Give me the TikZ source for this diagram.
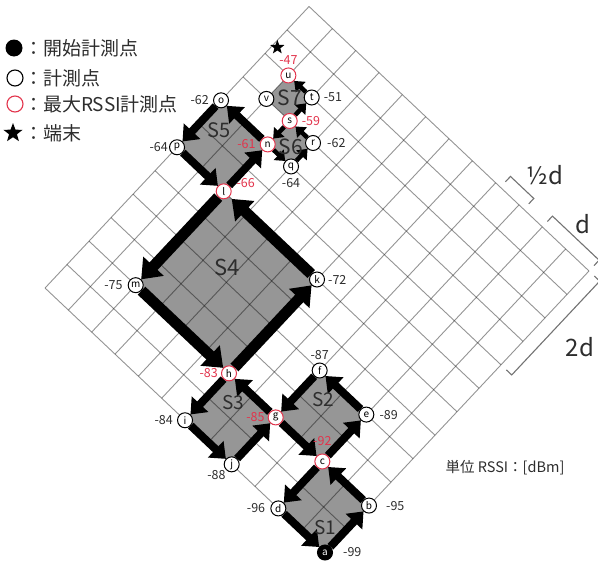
\documentclass[tikz,border=0pt]{standalone}
\usepackage{fontspec}
\setmainfont{Noto Sans CJK JP}
\usetikzlibrary{arrows.meta,shapes.geometric}
\definecolor{rssired}{RGB}{226,52,76}
\definecolor{txtgray}{RGB}{45,45,45}
\definecolor{sqgray}{RGB}{150,150,150}
\pgfdeclarelayer{bg}\pgfdeclarelayer{gridl}\pgfdeclarelayer{arr}
\pgfsetlayers{bg,gridl,arr,main}
\tikzset{
 pt/.style={circle,draw=black,fill=white,line width=1pt,minimum size=15pt,inner sep=0pt,font=\fontsize{10}{10}\selectfont},
 maxpt/.style={pt,draw=rssired},
 startpt/.style={pt,fill=black,text=white},
 val/.style={font=\fontsize{12.5}{12.5}\selectfont,text=txtgray,inner sep=1pt},
 rval/.style={val,text=rssired},
 gridline/.style={black,opacity=0.42,line width=0.9pt},
 sq/.style={fill=sqgray},
 arrM/.style={line width=8pt,-{Triangle[length=14pt,width=22pt]}},
 arrL/.style={line width=11pt,-{Triangle[length=18pt,width=27pt]}},
 arrS/.style={line width=4.5pt,-{Triangle[length=9pt,width=14pt]}},
 slabel/.style={text=txtgray,font=\fontsize{19}{19}\selectfont},
 legend/.style={anchor=west,inner sep=0pt,font=\fontsize{19}{19}\selectfont,text=txtgray},
 brk/.style={line width=1.1pt,black!55},
 dimlabel/.style={text=txtgray,font=\fontsize{24}{24}\selectfont},
}
\begin{document}
\begin{tikzpicture}[x=1pt,y=-1pt]
\useasboundingbox (0,0) rectangle (598,562);
% legend
\node[circle,fill=black,minimum size=17pt,inner sep=0pt] (lgA) at (14,48) {};
\node[circle,draw=black,line width=1.1pt,minimum size=16pt,inner sep=0pt] (lgB) at (15,78) {};
\node[circle,draw=rssired,line width=1.1pt,minimum size=16pt,inner sep=0pt] (lgC) at (15,104) {};
\node[star,star points=5,star point ratio=2.4,fill=black,inner sep=0pt,minimum size=20pt] (lgD) at (13,133) {};
\node[legend] (lt1) at (24,48) {：開始計測点};
\node[legend] (lt2) at (24,78) {：計測点};
\node[legend] (lt3) at (24,104) {：最大RSSI計測点};
\node[legend] (lt4) at (24,133) {：端末};
\node[text=txtgray,font=\fontsize{14.5}{14.5}\selectfont] (unit) at (505,468) {単位 RSSI：[dBm]};
% grid scope
\begin{scope}[shift={(325pt,-552.5pt)},x={(22pt,23.46pt)},y={(-23.33pt,22.04pt)}]
\node[startpt,label={[val,label distance=9pt]0:-99}] (a) at (0,0) {a};
\node[pt,label={[val,label distance=8pt]0:-95}] (b) at (2,0) {b};
\node[maxpt,label={[rval,label distance=7pt]90:-92}] (c) at (2,2) {c};
\node[pt,label={[val,label distance=4pt]180:-96}] (d) at (0,2) {d};
\node[pt,label={[val,label distance=4pt]0:-89}] (e) at (4,2) {e};
\node[pt,label={[val,label distance=2pt]90:-87}] (f) at (4,4) {f};
\node[maxpt,label={[rval,label distance=2pt]180:-85}] (g) at (2,4) {g};
\node[maxpt,label={[rval,label distance=2pt]180:-83}] (h) at (2,6) {h};
\node[pt,label={[val,label distance=3pt]180:-84}] (i) at (0,6) {i};
\node[pt,label={[val,label distance=-1pt]-135:-88}] (j) at (0,4) {j};
\node[pt,label={[val,label distance=2pt]0:-72}] (k) at (6,6) {k};
\node[maxpt,label={[rval,label distance=4pt]12:-66}] (l) at (6,10) {l};
\node[pt,label={[val,label distance=4pt]180:-75}] (m) at (2,10) {m};
\node[maxpt,label={[rval,label distance=3pt]180:-61}] (n) at (8,10) {n};
\node[pt,label={[val,label distance=3pt]180:-62}] (o) at (8,12) {o};
\node[pt,label={[val,label distance=0pt]180:-64}] (p) at (6,12) {p};
\node[pt,label={[val,label distance=3pt]-90:-64}] (q) at (8,9) {q};
\node[pt,label={[val,label distance=5pt]0:-62}] (r) at (9,9) {r};
\node[maxpt,label={[rval,label distance=3pt]0:-59}] (s) at (9,10) {s};
\node[pt,label={[val,label distance=3pt]0:-51}] (t) at (10,10) {t};
\node[maxpt,label={[rval,label distance=2pt]90:-47}] (u) at (10,11) {u};
\node[pt] (v) at (9,11) {v};
\node[star,star points=5,star point ratio=2.4,fill=black,inner sep=0pt,minimum size=15pt] (term) at (10.4,11.85) {};
% fills
\begin{pgfonlayer}{bg}
\fill[sq] (a.center)--(b.center)--(c.center)--(d.center)--cycle;
\fill[sq] (c.center)--(e.center)--(f.center)--(g.center)--cycle;
\fill[sq] (g.center)--(h.center)--(i.center)--(j.center)--cycle;
\fill[sq] (h.center)--(k.center)--(l.center)--(m.center)--cycle;
\fill[sq] (l.center)--(n.center)--(o.center)--(p.center)--cycle;
\fill[sq] (n.center)--(q.center)--(r.center)--(s.center)--cycle;
\fill[sq] (s.center)--(t.center)--(u.center)--(v.center)--cycle;
\end{pgfonlayer}
% grid
\begin{pgfonlayer}{gridl}
\foreach \k in {0,...,12}{
  \draw[gridline] (\k,0)--(\k,12);
  \draw[gridline] (0,\k)--(12,\k);
}
\end{pgfonlayer}
% arrows
\begin{pgfonlayer}{arr}
\draw[arrM] (a)--(b); \draw[arrM] (b)--(c); \draw[arrM] (c)--(d); \draw[arrM] (d)--(a);
\draw[arrM] (c)--(e); \draw[arrM] (e)--(f); \draw[arrM] (f)--(g); \draw[arrM] (g)--(c);
\draw[arrM] (g)--(h); \draw[arrM] (h)--(i); \draw[arrM] (i)--(j); \draw[arrM] (j)--(g);
\draw[arrL] (h)--(k); \draw[arrL,shorten >=3pt] (k)--(l); \draw[arrL] (l)--(m); \draw[arrL] (m)--(h);
\draw[arrM] (l)--(n); \draw[arrM] (n)--(o); \draw[arrM] (o)--(p); \draw[arrM] (p)--(l);
\draw[arrS] (n)--(q); \draw[arrS] (q)--(r); \draw[arrS] (r)--(s); \draw[arrS] (s)--(n);
\draw[arrS] (s)--(t); \draw[arrS] (t)--(u);
\end{pgfonlayer}
% dimension brackets
\draw[brk] (12.23,3.8)--(12.46,3.8)--(12.46,2.8)--(12.23,2.8);
\draw[brk] (12.23,2)--(12.46,2)--(12.46,0)--(12.23,0);
\draw[brk] (12,-0.23)--(12,-0.46)--(8,-0.46)--(8,-0.23);
\end{scope}
% square labels
\node[slabel] (S1) at (325,528) {S1};
\node[slabel] (S2) at (323,400) {S2};
\node[slabel] (S3) at (233,403) {S3};
\node[slabel,font=\fontsize{22}{22}\selectfont] (S4) at (227,267) {S4};
\node[slabel,font=\fontsize{20}{20}\selectfont] (S5) at (219,130) {S5};
\node[slabel,font=\fontsize{21}{21}\selectfont] (S6) at (291,147) {S6};
\node[slabel,font=\fontsize{21}{21}\selectfont] (S7) at (290,98) {S7};
% dimension labels
\node[dimlabel] (dh) at (545,175) {½d};
\node[dimlabel] (d1) at (583,224) {d};
\node[dimlabel] (d2) at (580,347) {2d};
\end{tikzpicture}
\end{document}
